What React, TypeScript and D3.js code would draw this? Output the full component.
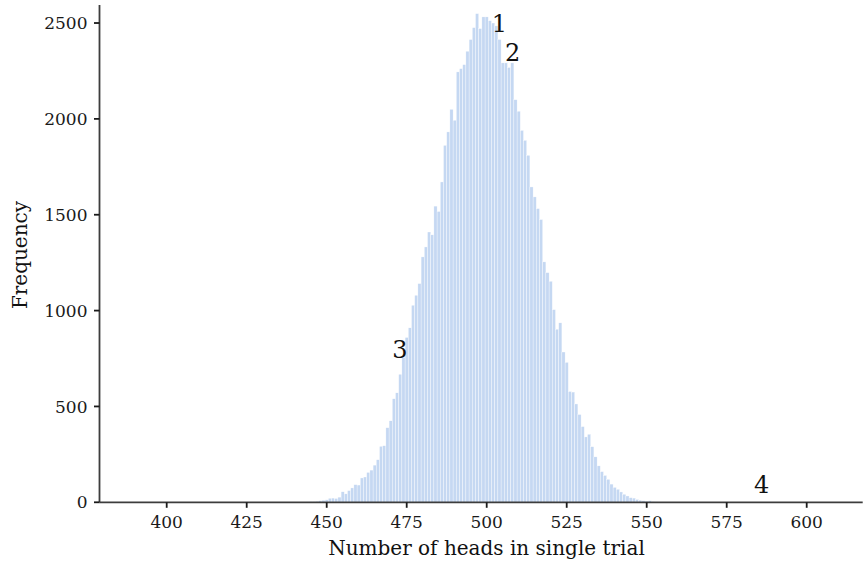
import React from "react";
import * as d3 from "d3";

const heads: number[] = [
  444, 445, 446, 447, 448, 449, 450, 451, 452, 453, 454, 455, 456, 457, 458, 459,
  460, 461, 462, 463, 464, 465, 466, 467, 468, 469, 470, 471, 472, 473, 474, 475,
  476, 477, 478, 479, 480, 481, 482, 483, 484, 485, 486, 487, 488, 489, 490, 491,
  492, 493, 494, 495, 496, 497, 498, 499, 500, 501, 502, 503, 504, 505, 506, 507,
  508, 509, 510, 511, 512, 513, 514, 515, 516, 517, 518, 519, 520, 521, 522, 523,
  524, 525, 526, 527, 528, 529, 530, 531, 532, 533, 534, 535, 536, 537, 538, 539,
  540, 541, 542, 543, 544, 545, 546, 547, 548, 549, 550, 551, 552, 553,
];

const frequency: number[] = [
  2, 3, 3, 5, 8, 11, 13, 21, 22, 20, 27, 55, 44, 61, 75, 92,
  90, 127, 132, 156, 168, 194, 222, 292, 295, 389, 425, 540, 571, 668, 756, 860,
  910, 1028, 1080, 1141, 1280, 1332, 1410, 1395, 1545, 1517, 1671, 1862, 1932, 2050, 1993, 2245,
  2262, 2283, 2353, 2414, 2476, 2549, 2471, 2532, 2532, 2512, 2500, 2485, 2414, 2292, 2292, 2268,
  2292, 2100, 2040, 1940, 1888, 1810, 1645, 1593, 1532, 1475, 1254, 1198, 1153, 1005, 903, 936,
  784, 730, 578, 575, 513, 458, 395, 341, 355, 290, 237, 190, 160, 140, 120, 95,
  78, 68, 54, 42, 33, 24, 22, 15, 11, 8, 6, 8, 3, 2,
];

const xTicks: number[] = [400, 425, 450, 475, 500, 525, 550, 575, 600];
const yTicks: number[] = [0, 500, 1000, 1500, 2000, 2500];

const annotationText: string[] = ["1", "2", "3", "4"];
const annotationX: number[] = [504.0, 508.1, 472.9, 585.9];
const annotationY: number[] = [2497, 2345, 798, 94];

const W = 863;
const H = 563;
const FONT = "'DejaVu Serif', serif";

export default function App() {
  const x = d3.scaleLinear().domain([379.0, 617.5]).range([99.5, 862.7]);
  const y = d3.scaleLinear().domain([0, 2594]).range([502.3, 5]);
  const bw = x(1) - x(0);

  return (
    <svg
      width={W}
      height={H}
      viewBox={`0 0 ${W} ${H}`}
      style={{ position: "absolute", left: 0, top: 0, background: "#fff" }}
    >
      <g>
        {heads.map((h, i) => (
          <rect
            key={h}
            x={x(h - 0.5)}
            y={y(frequency[i])}
            width={bw}
            height={y(0) - y(frequency[i])}
            fill="#c5d8f2"
            stroke="#ffffff"
            strokeWidth={0.35}
          />
        ))}
      </g>
      <line x1={x.range()[0]} x2={x.range()[1]} y1={y(0)} y2={y(0)} stroke="#3d3d3d" strokeWidth={1.8} />
      <line x1={x.range()[0]} x2={x.range()[0]} y1={y(0)} y2={y.range()[1]} stroke="#3d3d3d" strokeWidth={1.8} />
      {xTicks.map((t) => (
        <g key={t}>
          <line x1={x(t)} x2={x(t)} y1={y(0)} y2={y(0) + 5.5} stroke="#1a1a1a" strokeWidth={1.8} />
          <text
            x={x(t)}
            y={527.5}
            textAnchor="middle"
            fontFamily={FONT}
            fontSize={17}
            fill="#1a1a1a"
          >
            {t}
          </text>
        </g>
      ))}
      {yTicks.map((t) => (
        <g key={t}>
          <line x1={x.range()[0] - 5.5} x2={x.range()[0]} y1={y(t)} y2={y(t)} stroke="#1a1a1a" strokeWidth={1.8} />
          <text
            x={87.5}
            y={y(t)}
            dy="0.36em"
            textAnchor="end"
            fontFamily={FONT}
            fontSize={17}
            fill="#1a1a1a"
          >
            {t}
          </text>
        </g>
      ))}
      <text x={486.5} y={555} textAnchor="middle" fontFamily={FONT} fontSize={20} fill="#111">
        Number of heads in single trial
      </text>
      <text
        transform={`translate(27,255) rotate(-90)`}
        textAnchor="middle"
        fontFamily={FONT}
        fontSize={20}
        fill="#111"
      >
        Frequency
      </text>
      {annotationText.map((s, i) => (
        <text
          key={s}
          x={x(annotationX[i])}
          y={y(annotationY[i])}
          dy="0.36em"
          textAnchor="middle"
          fontFamily={FONT}
          fontSize={24}
          fill="#111"
        >
          {s}
        </text>
      ))}
    </svg>
  );
}
